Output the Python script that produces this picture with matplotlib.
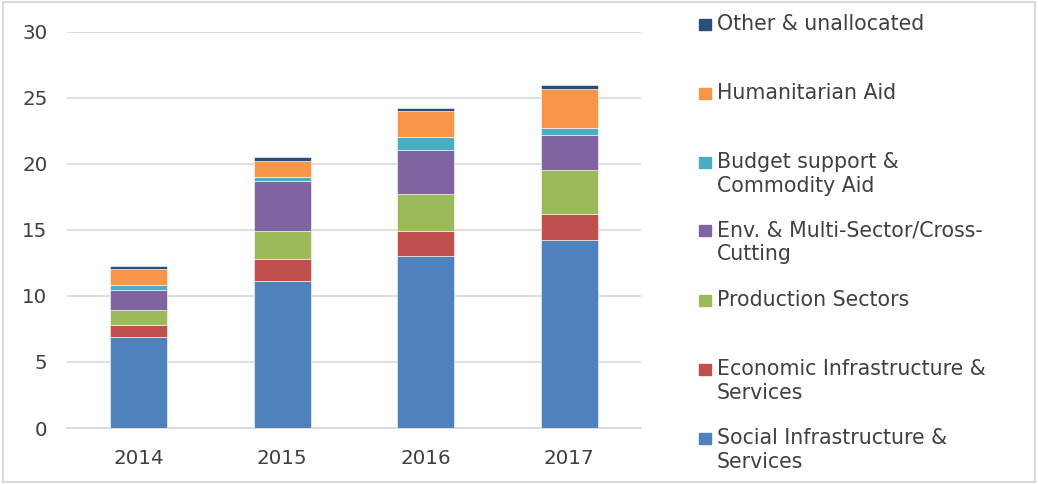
import numpy as np
import matplotlib
matplotlib.use("Agg")
import matplotlib.pyplot as plt
from matplotlib.patches import Rectangle

# ODA by sector
years = ["2014", "2015", "2016", "2017"]
social = [6.93, 11.11, 13.0, 14.22]
economic = [0.86, 1.67, 1.9, 1.97]
production = [1.14, 2.14, 2.83, 3.34]
env_multi = [1.54, 3.77, 3.32, 2.66]
budget = [0.38, 0.35, 0.98, 0.53]
humanitarian = [1.17, 1.22, 1.97, 2.98]
other = [0.27, 0.26, 0.23, 0.3]

series = [social, economic, production, env_multi, budget, humanitarian, other]
labels = ["Social Infrastructure &\nServices",
          "Economic Infrastructure &\nServices",
          "Production Sectors",
          "Env. & Multi-Sector/Cross-\nCutting",
          "Budget support &\nCommodity Aid",
          "Humanitarian Aid",
          "Other & unallocated"]
colors = ["#4F81BD", "#C0504D", "#9BBB59", "#8064A2", "#4BACC6", "#F79646", "#2C4D75"]

text_col = "#404040"
plt.rcParams["font.family"] = ["DejaVu Sans"]

fig = plt.figure(figsize=(10.38, 4.84), dpi=100)
ax = fig.add_axes([0.0645, 0.1157, 0.553, 0.8182])

x = np.arange(len(years))
bottom = np.zeros(len(years))
for vals, col in zip(series, colors):
    ax.bar(x, vals, width=0.4, bottom=bottom, color=col, edgecolor="white",
           linewidth=0.4, zorder=3)
    bottom += np.array(vals)

ax.set_xlim(-0.5, 3.5)
ax.set_ylim(0, 30)
ax.set_yticks(range(0, 31, 5))
ax.set_xticks(x)
ax.set_xticklabels(years)
ax.grid(axis="y", color="#d9d9d9", linewidth=1.2, zorder=0)
for s in ["top", "right", "left"]:
    ax.spines[s].set_visible(False)
ax.spines["bottom"].set_color("#d9d9d9")
ax.spines["bottom"].set_linewidth(1.2)
ax.tick_params(axis="both", length=0, labelsize=14.3, colors=text_col)
ax.tick_params(axis="y", pad=14)
ax.tick_params(axis="x", pad=15)

# legend drawn by hand so the swatch lines up with the first text line
leg_y = [438, 369, 300, 230, 162, 93, 24]
H = 484.0
W = 1038.0
for lab, col, yy in zip(labels, colors, leg_y):
    fig.patches.append(Rectangle((699 / W, 1 - (yy + 6) / H), 11.5 / W, 11.5 / H,
                                 transform=fig.transFigure, color=col))
    fig.text(717 / W, 1 - (yy - 10) / H, lab, fontsize=14.8, color=text_col,
             va="top", ha="left", linespacing=1.22)

# light border around the whole chart
fig.patches.append(Rectangle((0.0025, 0.004), 0.995, 0.991, transform=fig.transFigure,
                             fill=False, edgecolor="#d9d9d9", linewidth=1.5))

fig.savefig("out.png", dpi=100)
